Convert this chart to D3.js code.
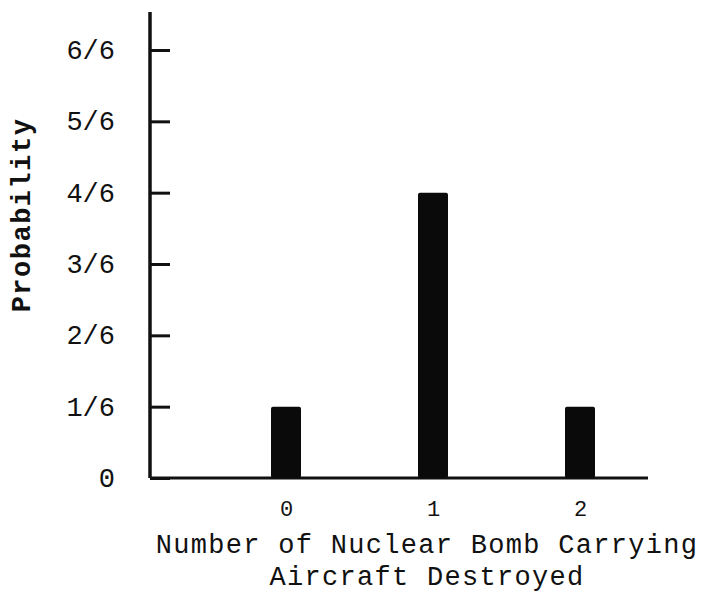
<!DOCTYPE html>
<html>
<head>
<meta charset="utf-8">
<script src="https://cdn.jsdelivr.net/npm/d3@7"></script>
<style>
  body { margin: 0; background: #fff; }
  text { font-family: "Liberation Mono", "DejaVu Sans Mono", monospace; fill: #111; }
</style>
</head>
<body>
<svg id="chart" width="716" height="592"></svg>
<script>
// values
const categories = [0, 1, 2];
const probs = [1/6, 4/6, 1/6];
const yTicks = [0, 1/6, 2/6, 3/6, 4/6, 5/6, 6/6];
const yTickLabels = ["0", "1/6", "2/6", "3/6", "4/6", "5/6", "6/6"];
const xTitle = ["Number of Nuclear Bomb Carrying", "Aircraft Destroyed"];

const svg = d3.select("#chart");
const left = 150, bottom = 478;

const y = d3.scaleLinear().domain([0, 1]).range([bottom, 50]);
const x = d3.scaleLinear().domain([0, 2]).range([286, 580]);
const barW = 30;

// y axis, ticks point inward
const yAxis = d3.axisLeft(y)
   .tickValues(yTicks)
   .tickFormat((d, i) => yTickLabels[i])
   .tickSize(-20)
   .tickPadding(35);

const gy = svg.append("g")
   .attr("transform", `translate(${left},0)`)
   .call(yAxis);
gy.select(".domain").remove();
gy.selectAll(".tick line").attr("stroke", "#111").attr("stroke-width", 3);
gy.selectAll(".tick text")
   .attr("font-size", 27)
   .attr("font-family", "Liberation Mono")
   .attr("fill", "#222");

// axis lines
svg.append("line")
   .attr("x1", left).attr("x2", left)
   .attr("y1", 12).attr("y2", bottom)
   .attr("stroke", "#111").attr("stroke-width", 3.5);
svg.append("line")
   .attr("x1", left).attr("x2", 648)
   .attr("y1", bottom).attr("y2", bottom)
   .attr("stroke", "#111").attr("stroke-width", 3);

// bars
svg.selectAll("rect.bar")
   .data(categories)
   .join("rect")
   .attr("class", "bar")
   .attr("x", d => x(d) - barW / 2)
   .attr("y", (d, i) => y(probs[i]))
   .attr("width", barW)
   .attr("height", (d, i) => bottom - y(probs[i]))
   .attr("rx", 2)
   .attr("fill", "#0a0a0a");

// x tick labels
const xAxis = d3.axisBottom(x)
   .tickValues(categories)
   .tickFormat(d3.format("d"))
   .tickSize(0)
   .tickPadding(22);
const gx = svg.append("g")
   .attr("transform", `translate(0,${bottom})`)
   .call(xAxis);
gx.select(".domain").remove();
gx.selectAll(".tick text")
   .attr("font-size", 22)
   .attr("font-family", "Liberation Mono")
   .attr("fill", "#555");

// x title
svg.selectAll("text.xtitle")
   .data(xTitle)
   .join("text")
   .attr("class", "xtitle")
   .attr("x", 427)
   .attr("y", (d, i) => 553 + i * 32)
   .attr("text-anchor", "middle")
   .attr("font-size", 27)
   .attr("letter-spacing", 1.3)
   .text(d => d);

// y title
svg.append("text")
   .attr("transform", "translate(30,215) rotate(-90)")
   .attr("text-anchor", "middle")
   .attr("font-size", 27)
   .attr("font-weight", "bold")
   .attr("letter-spacing", 1.5)
   .text("Probability");
</script>
</body>
</html>
